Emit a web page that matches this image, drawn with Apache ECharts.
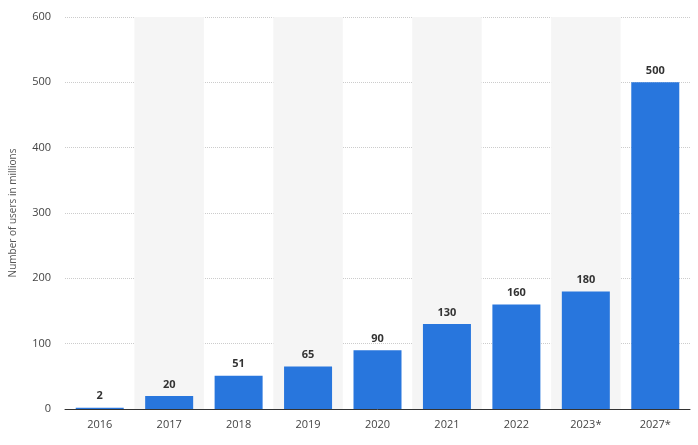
<!DOCTYPE html>
<html><head><meta charset="utf-8">
<script src="https://cdn.jsdelivr.net/npm/echarts@6/dist/echarts.min.js"></script>
<style>html,body{margin:0;padding:0;background:#fff}#c{width:698px;height:445px}</style>
</head><body><div id="c"></div>
<script>
const categories = ['2016','2017','2018','2019','2020','2021','2022','2023*','2027*'];
const users = [2,20,51,65,90,130,160,180,500];
const yTicks = [0,100,200,300,400,500,600];
const chart = echarts.init(document.getElementById('c'));
chart.setOption({
  animation:false,
  grid:{left:60,right:8,top:17,bottom:36},
  xAxis:{type:'category',data:categories,
    axisLine:{lineStyle:{color:'#333'}},axisTick:{show:false},
    axisLabel:{color:'#444',fontSize:11,fontFamily:'Open Sans',margin:10},
    splitArea:{show:true,areaStyle:{color:['rgba(0,0,0,0)','#f5f5f5']}}},
  yAxis:{type:'value',min:yTicks[0],max:yTicks[yTicks.length-1],interval:100,
    name:'Number of users in millions',nameLocation:'middle',nameGap:47,nameRotate:90,
    nameTextStyle:{color:'#555',fontSize:10,fontFamily:'Open Sans'},
    axisLabel:{color:'#444',fontSize:11,fontFamily:'Open Sans',margin:14},
    splitLine:{lineStyle:{color:'#ccc',type:'dotted'}}},
  series:[{type:'bar',data:users,barWidth:48,itemStyle:{color:'#2876dd'},
    label:{show:true,position:'top',color:'#333',fontWeight:'bold',fontSize:11,fontFamily:'Open Sans',distance:6}}]
});
</script></body></html>
